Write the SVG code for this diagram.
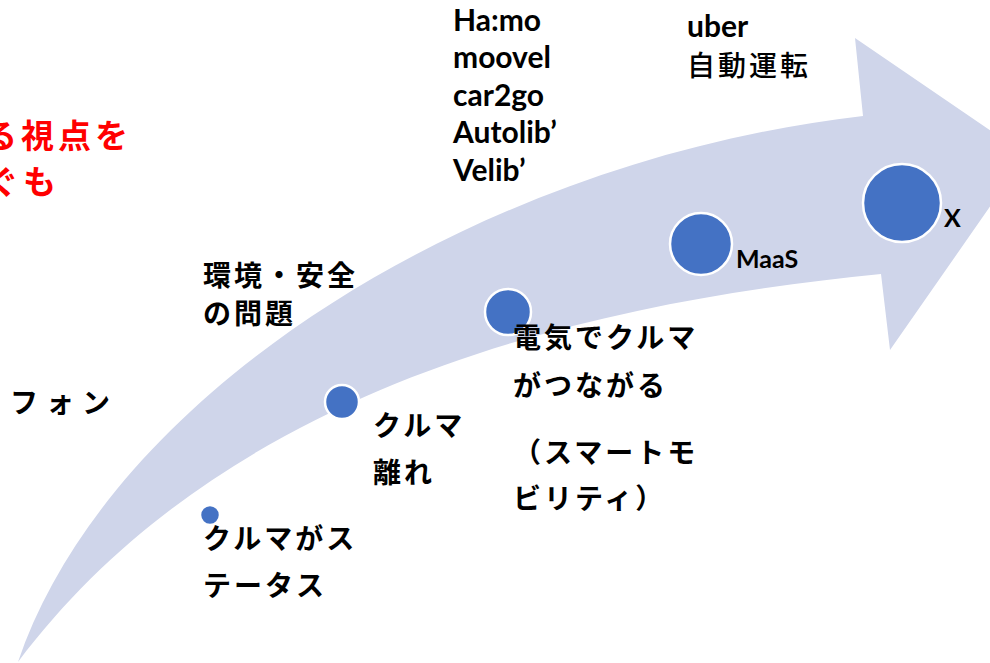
<svg xmlns="http://www.w3.org/2000/svg" width="990" height="663" viewBox="0 0 990 663">
<style>
.jp{font-family:"Noto Sans CJK JP","Noto Sans",sans-serif;font-weight:700;font-size:28px;letter-spacing:3px;fill:#000}
.jpr{font-family:"Noto Sans CJK JP","Noto Sans",sans-serif;font-weight:700;font-size:33px;letter-spacing:4px;fill:#FF0000}
.en{font-family:Lato,"Liberation Sans",sans-serif;font-weight:700;font-size:30px;fill:#000}
.ens{font-family:Lato,"Liberation Sans",sans-serif;font-weight:700;font-size:25px;fill:#000}
.dot{fill:#4472C4;stroke:#FFFFFF;stroke-width:2.5}
</style>
<rect width="990" height="663" fill="#FFFFFF"/>
<g id="arrow">
<path d="M18,662 C110,390 480,160 863,116 L855,38 L1026,155 L890,350 L881,274 C600,302 230,380 18,662 Z" fill="#CFD5EA"/>
</g>
<g id="connectors"></g>
<g id="side-text">
<text class="jpr" x="-16" y="148">る視点を</text>
<text class="jpr" x="-14" y="194">ぐも</text>
<text class="jp" x="10" y="413" style="letter-spacing:8px">フォン</text>
</g>
<g id="node-status">
<circle class="dot" cx="210" cy="515" r="10"/>
<text class="jp" x="203" y="549">クルマがス</text>
<text class="jp" x="203" y="596">テータス</text>
</g>
<g id="node-hanare">
<circle class="dot" cx="342" cy="402" r="17"/>
<text class="jp" x="373" y="436">クルマ</text>
<text class="jp" x="373" y="483">離れ</text>
</g>
<g id="node-kankyo">
<text class="jp" x="203" y="286">環境・安全</text>
<text class="jp" x="203" y="324">の問題</text>
</g>
<g id="node-smart">
<circle class="dot" cx="508" cy="312" r="23"/>
<text class="jp" x="513" y="348">電気でクルマ</text>
<text class="jp" x="513" y="396">がつながる</text>
<text class="jp" x="513" y="463">（スマートモ</text>
<text class="jp" x="513" y="509">ビリティ）</text>
</g>
<g id="node-sharing">
<text class="en" x="453" y="31">Ha:mo</text>
<text class="en" x="453" y="68">moovel</text>
<text class="en" x="453" y="106">car2go</text>
<text class="en" x="453" y="143">Autolib’</text>
<text class="en" x="453" y="181">Velib’</text>
</g>
<g id="node-maas">
<circle class="dot" cx="701" cy="244" r="31"/>
<text class="ens" x="736" y="268">MaaS</text>
</g>
<g id="node-uber">
<text class="en" x="687" y="37">uber</text>
<text class="jp" x="687" y="76" style="font-weight:500">自動運転</text>
</g>
<g id="node-x">
<circle class="dot" cx="902" cy="203" r="39"/>
<text class="ens" x="944" y="227">X</text>
</g>
</svg>
